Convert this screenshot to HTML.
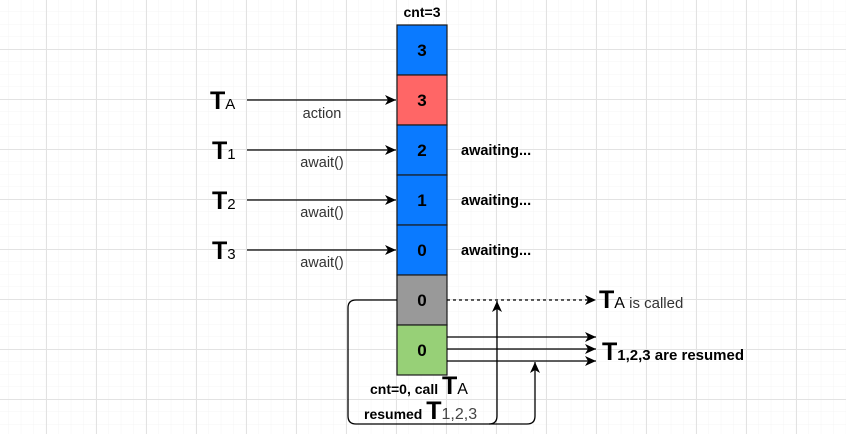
<!DOCTYPE html>
<html><head><style>
html,body{margin:0;padding:0;background:#fff}
svg{display:block}
text{font-family:"Liberation Sans",Arial,sans-serif}
</style></head><body>
<svg width="846" height="434" viewBox="0 0 846 434" xmlns="http://www.w3.org/2000/svg">
<defs>
<pattern id="minor" x="8.3" y="11.5" width="12.5" height="12.5" patternUnits="userSpaceOnUse">
<path d="M0 0H12.5M0 0V12.5" stroke="#f4f4f4" stroke-width="1" fill="none"/>
</pattern>
<pattern id="major" x="46" y="49" width="50" height="50" patternUnits="userSpaceOnUse">
<path d="M0 0.5H50M0.5 0V50" stroke="#e2e2e2" stroke-width="1" fill="none"/>
</pattern>
<marker id="ar" markerWidth="12" markerHeight="10" refX="11" refY="5" orient="auto" markerUnits="userSpaceOnUse">
<path d="M0 0L11 5L0 10L3 5Z" fill="#000"/>
</marker>
</defs>
<rect width="846" height="434" fill="url(#minor)"/>
<rect width="846" height="434" fill="url(#major)"/>

<text x="422" y="17" font-size="14" font-weight="bold" text-anchor="middle">cnt=3</text>
<g stroke="#1a1a1a" stroke-width="1.2">
<rect x="397" y="25" width="50" height="50" fill="#0a7aff"/>
<rect x="397" y="75" width="50" height="50" fill="#ff6666"/>
<rect x="397" y="125" width="50" height="50" fill="#0a7aff"/>
<rect x="397" y="175" width="50" height="50" fill="#0a7aff"/>
<rect x="397" y="225" width="50" height="50" fill="#0a7aff"/>
<rect x="397" y="275" width="50" height="50" fill="#999999"/>
<rect x="397" y="325" width="50" height="50" fill="#97d077"/>
</g>
<g font-size="17" font-weight="bold" text-anchor="middle">
<text x="422" y="56">3</text><text x="422" y="106">3</text><text x="422" y="156">2</text>
<text x="422" y="206">1</text><text x="422" y="256">0</text><text x="422" y="306">0</text><text x="422" y="356">0</text>
</g>

<g stroke="#000" stroke-width="1.3" fill="none">
<line x1="247" y1="100" x2="396" y2="100" marker-end="url(#ar)"/>
<line x1="247" y1="150" x2="396" y2="150" marker-end="url(#ar)"/>
<line x1="247" y1="200" x2="396" y2="200" marker-end="url(#ar)"/>
<line x1="247" y1="250" x2="396" y2="250" marker-end="url(#ar)"/>
<line x1="447" y1="300" x2="596" y2="300" stroke-dasharray="3,3" marker-end="url(#ar)"/>
<line x1="447" y1="337" x2="596" y2="337" marker-end="url(#ar)"/>
<line x1="447" y1="349" x2="596" y2="349" marker-end="url(#ar)"/>
<line x1="447" y1="361" x2="596" y2="361" marker-end="url(#ar)"/>
<path d="M397 300H356Q348 300 348 308V416Q348 424 356 424H489Q497 424 497 416V301" marker-end="url(#ar)"/>
<path d="M489 424H527Q535 424 535 416V362" marker-end="url(#ar)"/>
</g>

<g font-size="25" font-weight="bold">
<text x="210" y="109">T<tspan font-size="15" font-weight="normal">A</tspan></text>
<text x="212" y="159">T<tspan font-size="15" font-weight="normal">1</tspan></text>
<text x="212" y="209">T<tspan font-size="15" font-weight="normal">2</tspan></text>
<text x="212" y="259">T<tspan font-size="15" font-weight="normal">3</tspan></text>
</g>
<g font-size="14.5" fill="#333" text-anchor="middle">
<text x="322" y="118">action</text>
<text x="322" y="167">await()</text>
<text x="322" y="217">await()</text>
<text x="322" y="267">await()</text>
</g>
<g font-size="14.5" font-weight="bold">
<text x="461" y="155">awaiting...</text>
<text x="461" y="205">awaiting...</text>
<text x="461" y="255">awaiting...</text>
</g>
<text x="599" y="308" font-size="25" font-weight="bold">T<tspan font-size="16" font-weight="normal">A</tspan><tspan font-size="15" font-weight="normal" fill="#333"> is called</tspan></text>
<text x="602" y="360" font-size="25" font-weight="bold">T<tspan font-size="15">1,2,3 are resumed</tspan></text>
<text x="370" y="394" font-size="14" font-weight="bold">cnt=0, call <tspan font-size="25">T</tspan><tspan font-size="16" font-weight="normal">A</tspan></text>
<text x="364" y="419" font-size="14" font-weight="bold">resumed <tspan font-size="25">T</tspan><tspan font-size="16" font-weight="normal" fill="#444">1,2,3</tspan></text>
</svg>
</body></html>
